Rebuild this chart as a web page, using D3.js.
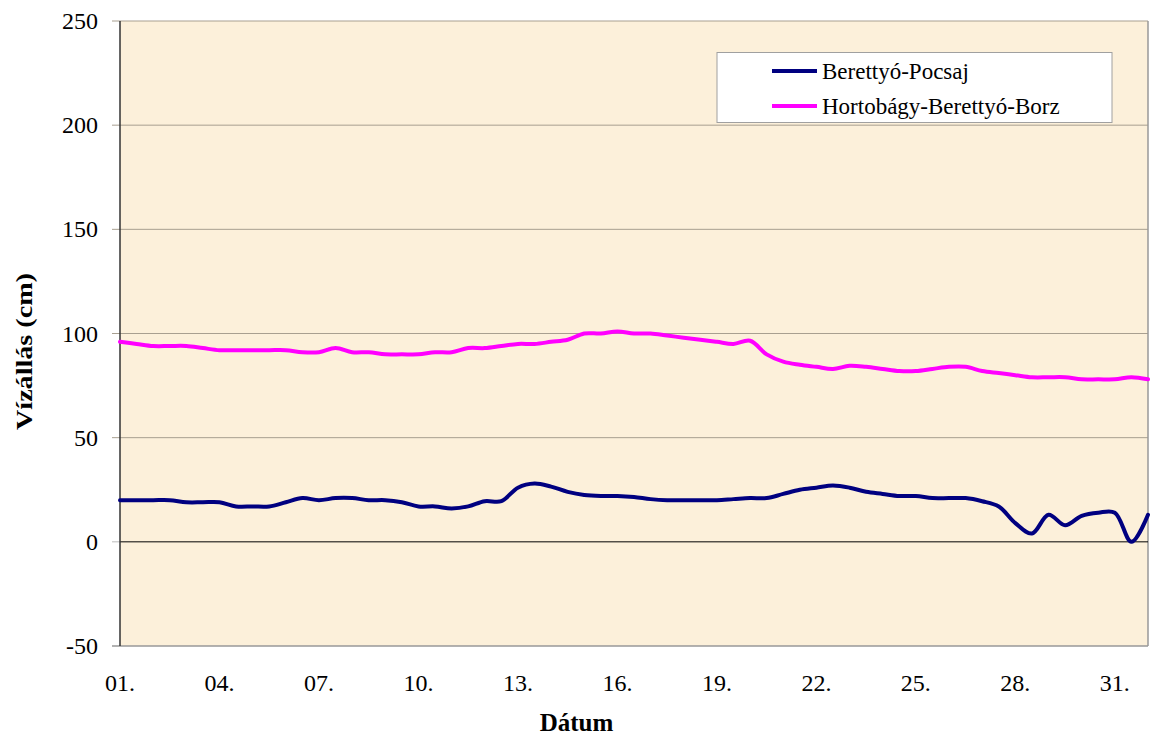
<!DOCTYPE html>
<html><head><meta charset="utf-8">
<script src="https://cdn.jsdelivr.net/npm/d3@7"></script>
<style>body{margin:0;background:#fff;}svg{display:block;}
svg text{font-family:"Times New Roman","Liberation Serif","DejaVu Serif",serif;}</style>
</head><body>
<svg id="c" width="1150" height="737"></svg>
<script>
// Day positions (every half day, from 01. to the end of 31.)
const days = [1,1.5,2,2.5,3,3.5,4,4.5,5,5.5,6,6.5,7,7.5,8,8.5,9,9.5,10,10.5,11,11.5,12,12.5,13,13.5,14,14.5,15,15.5,16,16.5,17,17.5,18,18.5,19,19.5,20,20.5,21,21.5,22,22.5,23,23.5,24,24.5,25,25.5,26,26.5,27,27.5,28,28.5,29,29.5,30,30.5,31,31.5,32];
const pocsaj = [20,20,20,20,19,19,19,17,17,17,19,21,20,21,21,20,20,19,17,17,16,17,19.5,19.5,26,28,26.5,24,22.5,22,22,21.5,20.5,20,20,20,20,20.5,21,21,23,25,26,27,26,24,23,22,22,21,21,21,19.5,17,9,4,13,8,12.5,14,14,0,13];
const borz = [96,95,94,94,94,93,92,92,92,92,92,91,91,93,91,91,90,90,90,91,91,93,93,94,95,95,96,97,100,100,101,100,100,99,98,97,96,95,96.5,90,86.5,85,84,83,84.5,84,83,82,82,83,84,84,82,81,80,79,79,79,78,78,78,79,78];
const tickDays = [1,4,7,10,13,16,19,22,25,28,31];
const tickLabels = ["01.","04.","07.","10.","13.","16.","19.","22.","25.","28.","31."];
const yTicks = [-50,0,50,100,150,200,250];
const seriesNames = ["Berettyó-Pocsaj","Hortobágy-Berettyó-Borz"];
const seriesColors = ["#000080","#FF00FF"];

const svg = d3.select("#c");
const L = 120, R = 1148, T = 21, B = 646;
const x = d3.scaleLinear().domain([1,32]).range([L,R]);
const y = d3.scaleLinear().domain([-50,250]).range([B,T]);

// plot background
svg.append("rect").attr("x",L).attr("y",T).attr("width",R-L).attr("height",B-T).attr("fill","#FCF0DA");

// gridlines
svg.append("g").selectAll("line").data(yTicks.filter(v=>v!==0 && v!==-50)).join("line")
  .attr("x1",L-8).attr("x2",R).attr("y1",d=>y(d)).attr("y2",d=>y(d))
  .attr("stroke","#A89F90").attr("stroke-width",1);
// -50 tick/bottom border
svg.append("line").attr("x1",L-8).attr("x2",R).attr("y1",y(-50)).attr("y2",y(-50)).attr("stroke","#999").attr("stroke-width",1.5);
// right border
svg.append("line").attr("x1",R).attr("x2",R).attr("y1",T).attr("y2",B).attr("stroke","#999").attr("stroke-width",1.5);
// zero line
svg.append("line").attr("x1",L).attr("x2",R).attr("y1",y(0)).attr("y2",y(0)).attr("stroke","#000").attr("stroke-width",1);
svg.append("line").attr("x1",L-8).attr("x2",L).attr("y1",y(0)).attr("y2",y(0)).attr("stroke","#bbb").attr("stroke-width",1);
// y axis line
svg.append("line").attr("x1",L).attr("x2",L).attr("y1",T).attr("y2",B).attr("stroke","#333").attr("stroke-width",1.5);

// y tick labels
svg.append("g").selectAll("text").data(yTicks).join("text")
  .attr("x",98).attr("y",d=>y(d)+8).attr("text-anchor","end")
  .attr("font-size",24).attr("fill","#000").text(d=>d);
// x tick labels
svg.append("g").selectAll("text").data(tickDays).join("text")
  .attr("x",d=>x(d)).attr("y",691).attr("text-anchor","middle")
  .attr("font-size",24).attr("fill","#000").text((d,i)=>tickLabels[i]);

// axis titles
svg.append("text").attr("x",576.5).attr("y",731).attr("text-anchor","middle")
  .attr("font-size",25).attr("font-weight","bold").text("Dátum");
svg.append("text").attr("transform","translate(32,351.5) rotate(-90)").attr("text-anchor","middle")
  .attr("font-size",24).attr("font-weight","bold")
  .attr("textLength",157).attr("lengthAdjust","spacingAndGlyphs").text("Vízállás (cm)");

// lines
const line = d3.line().x((d,i)=>x(days[i])).y(d=>y(d)).curve(d3.curveCatmullRom.alpha(0.5));
[pocsaj,borz].forEach((s,k)=>{
  svg.append("path").datum(s).attr("d",line).attr("fill","none")
    .attr("stroke",seriesColors[k]).attr("stroke-width",4).attr("stroke-linejoin","round").attr("stroke-linecap","round");
});

// legend
const lg = svg.append("g");
lg.append("rect").attr("x",717).attr("y",52.5).attr("width",395).attr("height",70).attr("fill","#fff").attr("stroke","#A0A0A0").attr("stroke-width",1);
seriesNames.forEach((n,k)=>{
  const yy = 71 + k*35;
  lg.append("line").attr("x1",772).attr("x2",817).attr("y1",yy).attr("y2",yy).attr("stroke",seriesColors[k]).attr("stroke-width",4);
  lg.append("text").attr("x",822).attr("y",yy+7.5).attr("font-size",23).text(n);
});
</script>
</body></html>
